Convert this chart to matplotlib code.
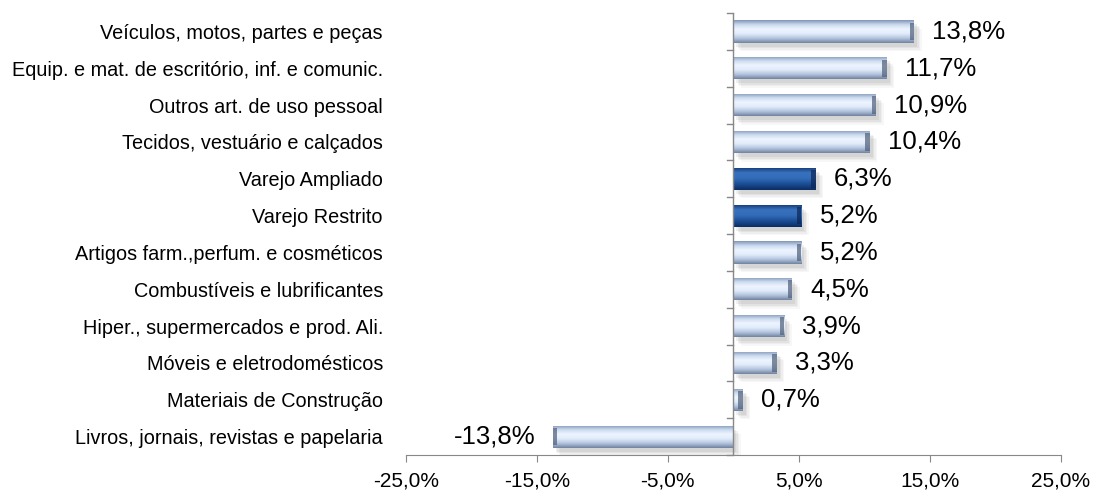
import matplotlib.pyplot as plt
import matplotlib.transforms as mtransforms
import numpy as np

plt.rcParams['font.family'] = ['Liberation Sans', 'DejaVu Sans']

categorias = ["Veículos, motos, partes e peças",
              "Equip. e mat. de escritório, inf. e comunic.",
              "Outros art. de uso pessoal",
              "Tecidos, vestuário e calçados",
              "Varejo Ampliado",
              "Varejo Restrito",
              "Artigos farm.,perfum. e cosméticos",
              "Combustíveis e lubrificantes",
              "Hiper., supermercados e prod. Ali.",
              "Móveis e eletrodomésticos",
              "Materiais de Construção",
              "Livros, jornais, revistas e papelaria"]
valores = [13.8, 11.7, 10.9, 10.4, 6.3, 5.2, 5.2, 4.5, 3.9, 3.3, 0.7, -13.8]
destaque = ["Varejo Ampliado", "Varejo Restrito"]
xticks = [-25, -15, -5, 5, 15, 25]

fig = plt.figure(figsize=(10.97, 4.91), dpi=100)
ax = fig.add_axes([0.370, 0.0733, 0.597, 0.900])

y = np.arange(len(categorias))
h = 0.6

# gradientes (vertical) para as barras
light = np.array([[0.52, 0.60, 0.72], [0.80, 0.86, 0.94], [0.93, 0.96, 1.0],
                  [0.88, 0.92, 0.98], [0.70, 0.77, 0.87], [0.45, 0.52, 0.63]])
dark = np.array([[0.08, 0.22, 0.45], [0.22, 0.45, 0.75], [0.20, 0.42, 0.72],
                 [0.10, 0.30, 0.58], [0.05, 0.18, 0.38]])

def grad(cols, n=40):
    t = np.linspace(0, 1, n)
    k = np.linspace(0, 1, len(cols))
    g = np.stack([np.interp(t, k, cols[:, c]) for c in range(3)], axis=1)
    return g[:, None, :]

for yi, v, cat in zip(y, valores, categorias):
    # sombra
    for s, a in [(0, 0.12), (1.5, 0.10), (3, 0.08), (4.5, 0.06)]:
        tr = mtransforms.offset_copy(ax.transData, fig=fig, x=3 + s, y=-4 - s, units='dots')
        ax.barh(yi, v, height=h, color='gray', alpha=a, transform=tr, zorder=1, lw=0)
    bar = ax.barh(yi, v, height=h, color='none', edgecolor='none', zorder=2)[0]
    cols = dark if cat in destaque else light
    x0, x1 = min(0, v), max(0, v)
    im = ax.imshow(grad(cols), extent=[x0, x1, yi + h / 2, yi - h / 2],
                   aspect='auto', zorder=2, interpolation='bilinear')
    im.set_clip_path(bar)
    # ponta chanfrada
    ponta = 0.35 if v >= 0 else -0.35
    ax.barh(yi, ponta, left=v - ponta, height=h * 0.8, color=(0.30, 0.37, 0.47) if cat not in destaque else (0.05, 0.15, 0.32),
            alpha=0.7, lw=0, zorder=3)
    lbl = f"{v:.1f}%".replace('.', ',')
    if v >= 0:
        ax.annotate(lbl, (v, yi), xytext=(13, 0), textcoords='offset points',
                    ha='left', va='center', fontsize=18.5)
    else:
        ax.annotate(lbl, (v, yi), xytext=(-12, 0), textcoords='offset points',
                    ha='right', va='center', fontsize=18.5)

ax.set_xlim(-25, 25)
ax.set_ylim(len(categorias) - 0.5, -0.5)
ax.set_xticks(xticks)
ax.set_xticklabels([f"{t:.1f}%".replace('.', ',') for t in xticks], fontsize=15)
ax.set_yticks(y)
ax.set_yticklabels(categorias, fontsize=14.3)
ax.tick_params(axis='y', length=0, pad=16.5)

for s in ['top', 'right', 'left']:
    ax.spines[s].set_visible(False)
ax.spines['bottom'].set_color('#888888')
ax.tick_params(axis='x', color='#888888', length=5, pad=7)
ax.axvline(0, color='#888888', lw=1, zorder=4)
for b in np.arange(-0.5, len(categorias), 1):
    ax.plot([-0.5, 0], [b, b], color='#888888', lw=1, zorder=4, clip_on=False)

fig.savefig('out.png', dpi=100)
